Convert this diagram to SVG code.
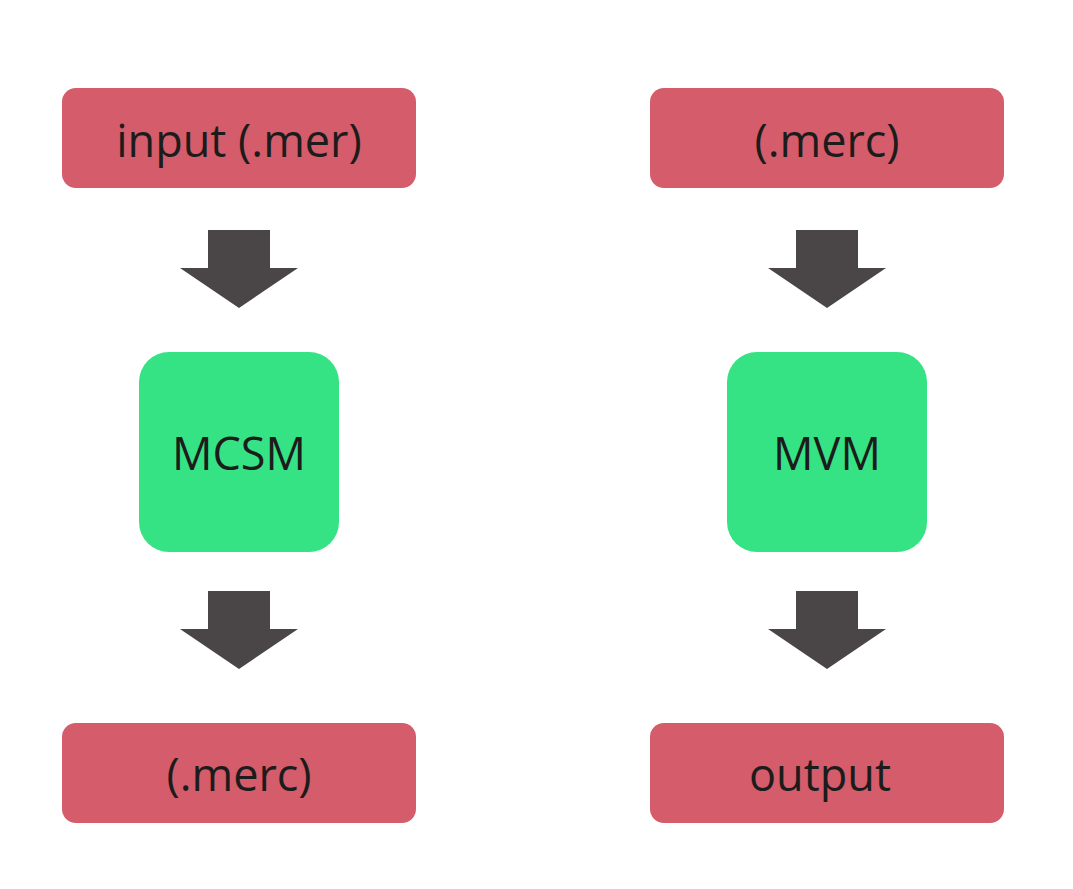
<svg xmlns="http://www.w3.org/2000/svg" width="1073" height="889" viewBox="0 0 1073 889">
<defs>
<style>
.file{fill:#D55C6A}
.proc{fill:#36E384}
.arrow{fill:#4A4648}
.t{font-family:"Open Sans","Liberation Sans",sans-serif;font-size:45px;fill:#1c1c1c;text-anchor:middle;dominant-baseline:central}
</style>
<path id="arr" d="M-31,0 H31 V38 H59 L0,78 L-59,38 H-31 Z"/>
</defs>
<rect width="1073" height="889" fill="#ffffff"/>
<g id="input">
<rect class="file" x="62" y="88" width="354" height="100" rx="14"/>
<text class="t" x="239" y="139">input (.mer)</text>
</g>
<g id="mcsm">
<rect class="proc" x="139" y="352" width="200" height="200" rx="30"/>
<text class="t" x="239" y="452">MCSM</text>
</g>
<g id="merc1">
<rect class="file" x="62" y="723" width="354" height="100" rx="14"/>
<text class="t" x="239" y="773">(.merc)</text>
</g>
<g id="merc2">
<rect class="file" x="650" y="88" width="354" height="100" rx="14"/>
<text class="t" x="827" y="139">(.merc)</text>
</g>
<g id="mvm">
<rect class="proc" x="727" y="352" width="200" height="200" rx="30"/>
<text class="t" x="827" y="452">MVM</text>
</g>
<g id="output">
<rect class="file" x="650" y="723" width="354" height="100" rx="14"/>
<text class="t" x="820" y="773">output</text>
</g>
<g id="connectors">
<use href="#arr" class="arrow" x="239" y="230"/>
<use href="#arr" class="arrow" x="239" y="591"/>
<use href="#arr" class="arrow" x="827" y="230"/>
<use href="#arr" class="arrow" x="827" y="591"/>
</g>
</svg>
